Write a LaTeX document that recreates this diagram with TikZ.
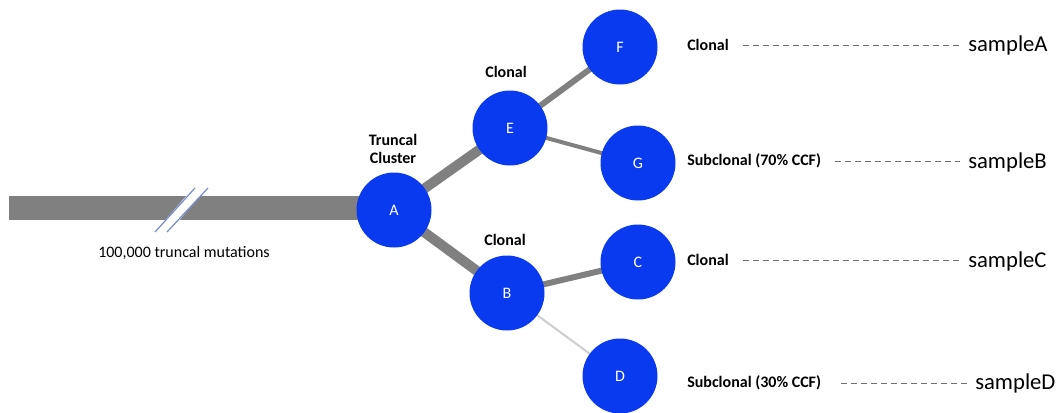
\documentclass[tikz,border=0pt]{standalone}
\usepackage{fontspec}
\setmainfont{Carlito}
\usetikzlibrary{backgrounds}
\definecolor{nodeblue}{RGB}{10,58,240}
\definecolor{edgegray}{RGB}{128,128,128}
\definecolor{lightedge}{RGB}{205,205,205}
\definecolor{breakblue}{RGB}{120,140,205}
\definecolor{dashgray}{RGB}{110,110,110}
\tikzset{
  clone/.style={circle, fill=nodeblue, draw=none, minimum size=56.25pt, inner sep=0pt,
    text=white, font=\fontsize{12}{14}\selectfont},
  lbl/.style={inner sep=0pt, font=\fontsize{12}{14}\selectfont\bfseries},
  smp/.style={inner sep=0pt, anchor=west, font=\fontsize{17}{20}\selectfont},
  tree/.style={draw=edgegray, line cap=butt},
  leader/.style={draw=dashgray, line width=0.6pt, dash pattern=on 4.5pt off 3pt}
}
\begin{document}
\begin{tikzpicture}[x=0.75pt, y=-0.75pt]
\useasboundingbox (0,0) rectangle (1060,412);
% nodes
\node[clone] (A) at (394,210) {A};
\node[clone] (E) at (510,128) {E};
\node[clone] (B) at (507,293) {B};
\node[clone] (F) at (620,47) {F};
\node[clone] (G) at (638,163) {G};
\node[clone] (C) at (638,262) {C};
\node[clone] (D) at (620,376) {D};
% upper labels
\node[lbl] (lE) at (506,72) {Clonal};
\node[lbl, align=center] (lA) at (393,149) {Truncal\\Cluster};
\node[lbl] (lB) at (505,240) {Clonal};
\node[inner sep=0pt, font=\fontsize{12}{14}\selectfont] (mut) at (184,253) {100,000 truncal mutations};
% right labels
\node[lbl, anchor=west] (rF) at (687,45) {Clonal};
\node[lbl, anchor=west] (rG) at (687,161) {Subclonal (70\% CCF)};
\node[lbl, anchor=west] (rC) at (687,260) {Clonal};
\node[lbl, anchor=west] (rD) at (687,383) {Subclonal (30\% CCF)};
\node[smp] (sA) at (968,45) {sampleA};
\node[smp] (sB) at (968,162) {sampleB};
\node[smp] (sC) at (968,261) {sampleC};
\node[smp] (sD) at (975,383) {sampleD};
\coordinate (bs) at (9,208);
% edges on background
\begin{scope}[on background layer]
  \draw[tree, line width=18pt] (bs) -- (bs -| A.center);
  \fill[white] (154,233) -- (195,186) -- (209,186) -- (168,233) -- cycle;
  \draw[breakblue, line width=0.9pt] (155,232) -- (195,188);
  \draw[breakblue, line width=0.9pt] (167,232) -- (208,188);
  \draw[tree, line width=7.5pt] (A.center) -- (E.center);
  \draw[tree, line width=7.5pt] (A.center) -- (B.center);
  \draw[tree, line width=4.5pt] (E.center) -- (F.center);
  \draw[tree, line width=3pt] (E.center) -- (G.center);
  \draw[tree, line width=4.5pt] (B.center) -- (C.center);
  \draw[draw=lightedge, line width=1.5pt] (B.center) -- (D.center);
\end{scope}
% leaders
\draw[leader, shorten <=10.5pt, shorten >=6pt] (rF.east) -- (rF.east -| sA.west);
\draw[leader, shorten <=10.5pt, shorten >=6pt] (rG.east) -- (rG.east -| sB.west);
\draw[leader, shorten <=10.5pt, shorten >=6pt] (rC.east) -- (rC.east -| sC.west);
\draw[leader, shorten <=15pt, shorten >=6pt] (rD.east) -- (rD.east -| sD.west);
\end{tikzpicture}
\end{document}
